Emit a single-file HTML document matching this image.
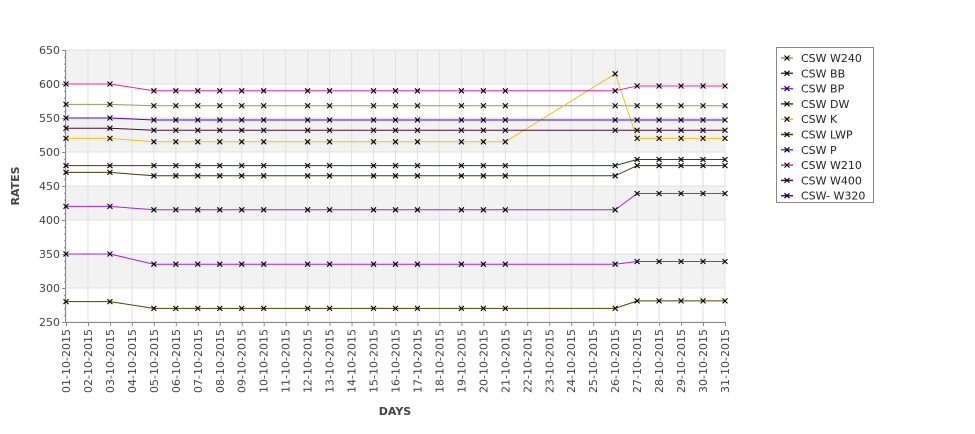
<!DOCTYPE html>
<html><head><meta charset="utf-8"><style>
body{margin:0;background:#fff;font-family:"Liberation Sans","DejaVu Sans",sans-serif}
</style></head><body>
<svg id="chart" width="975" height="429" xmlns="http://www.w3.org/2000/svg" font-family="DejaVu Sans, Liberation Sans, sans-serif"></svg>
<script>
const days=["01-10-2015","02-10-2015","03-10-2015","04-10-2015","05-10-2015","06-10-2015","07-10-2015","08-10-2015","09-10-2015","10-10-2015","11-10-2015","12-10-2015","13-10-2015","14-10-2015","15-10-2015","16-10-2015","17-10-2015","18-10-2015","19-10-2015","20-10-2015","21-10-2015","22-10-2015","23-10-2015","24-10-2015","25-10-2015","26-10-2015","27-10-2015","28-10-2015","29-10-2015","30-10-2015","31-10-2015"];
const pointDays=[0,2,4,5,6,7,8,9,11,12,14,15,16,18,19,20,25,26,27,28,29,30];
const seriesNames=["CSW  W240","CSW BB","CSW BP","CSW DW","CSW K","CSW LWP","CSW P","CSW W210","CSW W400","CSW- W320"];
const seriesColors=["#8c9e5a","#4a4400","#9b20f0","#1e4d28","#f2c01e","#3e3c0a","#a020f0","#f0209c","#4a1030","#4400f0"];
const w240=[570,570,568,568,568,568,568,568,568,568,568,568,568,568,568,568,568,568,568,568,568,568];
const bb=[280,280,270,270,270,270,270,270,270,270,270,270,270,270,270,270,270,281,281,281,281,281];
const bp=[350,350,335,335,335,335,335,335,335,335,335,335,335,335,335,335,335,339,339,339,339,339];
const dw=[480,480,480,480,480,480,480,480,480,480,480,480,480,480,480,480,480,489,489,489,489,489];
const k=[520,520,515,515,515,515,515,515,515,515,515,515,515,515,515,515,615,520,520,520,520,520];
const lwp=[470,470,465,465,465,465,465,465,465,465,465,465,465,465,465,465,465,480,480,480,480,480];
const p=[420,420,415,415,415,415,415,415,415,415,415,415,415,415,415,415,415,439,439,439,439,439];
const w210=[600,600,590,590,590,590,590,590,590,590,590,590,590,590,590,590,590,597,597,597,597,597];
const w400=[535,535,532,532,532,532,532,532,532,532,532,532,532,532,532,532,532,532,532,532,532,532];
const w320=[550,550,547,547,547,547,547,547,547,547,547,547,547,547,547,547,547,547,547,547,547,547];
const seriesValues=[w240,bb,bp,dw,k,lwp,p,w210,w400,w320];
const yTicks=[250,300,350,400,450,500,550,600,650];

const svg=document.getElementById('chart');
const NS="http://www.w3.org/2000/svg";
const L=66,R=725,T=50,B=322,yMin=250,yMax=650;
const xs=i=>L+i*(R-L)/(days.length-1);
const ys=v=>B-(v-yMin)*(B-T)/(yMax-yMin);
function mk(tag,attrs,parent){const e=document.createElementNS(NS,tag);for(const a in attrs)e.setAttribute(a,attrs[a]);(parent||svg).appendChild(e);return e;}

const plot=mk('g',{});


mk('rect',{x:L,y:T,width:R-L,height:B-T,fill:'#fff'},plot);
for(let i=0;i<yTicks.length-1;i++){
  if(i%2===1){const b=mk('rect',{x:L,y:ys(yTicks[i+1]),width:R-L,height:ys(yTicks[i])-ys(yTicks[i+1]),fill:'#f2f2f2'},plot);
  }
}
days.forEach((d,i)=>{const g=mk('line',{x1:xs(i),x2:xs(i),y1:T,y2:B,stroke:'#e0e0e0','stroke-width':1},plot);
 });
yTicks.forEach(v=>{const g=mk('line',{x1:L,x2:R,y1:ys(v),y2:ys(v),stroke:'#e0e0e0','stroke-width':1},plot);
 });

// axes
const ax=mk('line',{x1:L-0.5,x2:L-0.5,y1:T,y2:B,stroke:'#888'});

const axx=mk('line',{x1:L,x2:R,y1:B+0.5,y2:B+0.5,stroke:'#888'});

for(let v=yMin;v<=yMax;v+=10){const major=v%50===0;
 mk('line',{x1:L-(major?4:2),x2:L,y1:ys(v)+0.5,y2:ys(v)+0.5,stroke:'#888'});}
yTicks.forEach(v=>{const t=mk('text',{x:L-6,y:ys(v)+4,'text-anchor':'end','font-size':11,fill:'#444'});
 t.textContent=v;});
days.forEach((d,i)=>{mk('line',{x1:xs(i)+0.5,x2:xs(i)+0.5,y1:B,y2:B+4,stroke:'#888'});
 const t=mk('text',{x:0,y:0,'text-anchor':'end','font-size':11,fill:'#444',transform:`translate(${xs(i)+4},${B+7}) rotate(-90)`});
 t.textContent=d;});
const xt=mk('text',{x:395,y:415,'text-anchor':'middle','font-size':11,'font-weight':'bold',fill:'#444'});
xt.textContent='DAYS';
const yt=mk('text',{x:0,y:0,'text-anchor':'middle','font-size':11,'font-weight':'bold',fill:'#444',transform:'translate(19,186) rotate(-90)'});
yt.textContent='RATES';

// series
function cross(g,x,y){mk('path',{d:`M${x-2.5},${y-2.5}L${x+2.5},${y+2.5}M${x-2.5},${y+2.5}L${x+2.5},${y-2.5}`,stroke:'#000','stroke-width':1.1},g);}
seriesValues.forEach((vals,s)=>{
 const g=mk('g',{});
 
 
 const pts=vals.map((v,j)=>xs(pointDays[j])+','+ys(v)).join(' ');
 const line=mk('polyline',{points:pts,fill:'none',stroke:seriesColors[s],'stroke-width':1},g);
 
 vals.forEach((v,j)=>cross(g,xs(pointDays[j]),ys(v)));
});

// legend
const lg=mk('g',{});

mk('rect',{x:776.5,y:47.5,width:97,height:155,fill:'#fff',stroke:'#888'},lg);
seriesNames.forEach((n,s)=>{
 const y=58+s*15.3;
 const e=mk('g',{},lg);
 
 mk('line',{x1:781,x2:793,y1:y,y2:y,stroke:seriesColors[s],'stroke-width':1.5},e);
 cross(e,787,y);
 const t=mk('text',{x:801,y:y+4,'font-size':11,fill:'#222'},e);t.textContent=n;
});
</script>
</body></html>
